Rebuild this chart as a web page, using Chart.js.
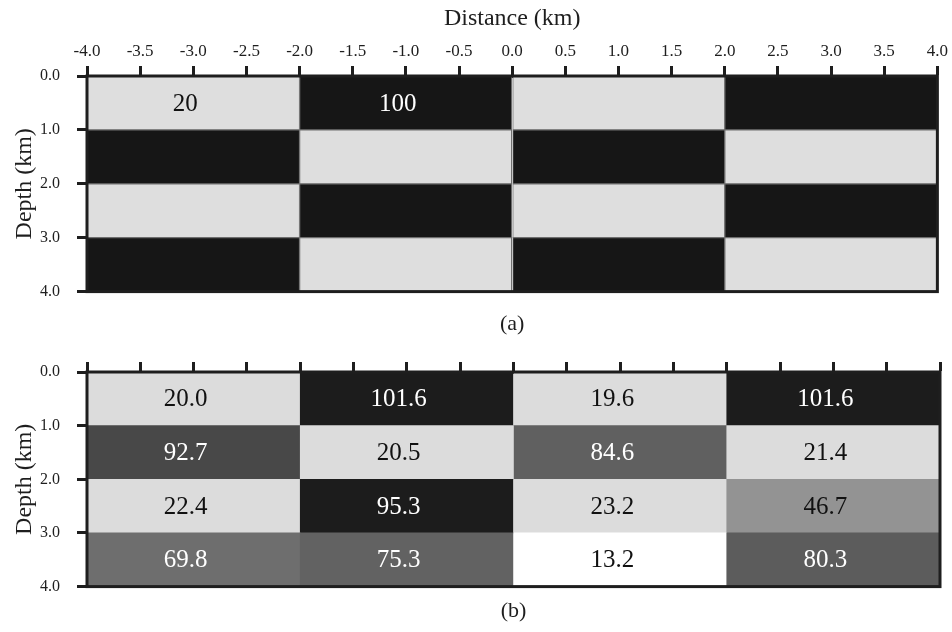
<!DOCTYPE html>
<html>
<head>
<meta charset="utf-8">
<script src="https://cdn.jsdelivr.net/npm/chart.js@4.4.1/dist/chart.umd.min.js"></script>
<style>
  html, body { margin: 0; padding: 0; background: #fff; }
  #wrap { width: 952px; height: 632px; }
  canvas { display: block; }
</style>
</head>
<body>
<div id="wrap">
  <canvas id="trueChart" width="952" height="340"></canvas>
  <canvas id="invChart" width="952" height="292"></canvas>
</div>
<script>
// ── Data ──
const distanceEdges = [-4.0, -2.0, 0.0, 2.0, 4.0];   // block edges (km)
const layerDepths = [0.5, 1.5, 2.5, 3.5];             // layer mid-depths (km)

// (a) true checkerboard model, rows = layers
const trueModel = [
  [20, 100, 20, 100],
  [100, 20, 100, 20],
  [20, 100, 20, 100],
  [100, 20, 100, 20]
];
const trueLabels = [
  ['20', '100', '', ''],
  ['', '', '', ''],
  ['', '', '', ''],
  ['', '', '', '']
];

// (b) recovered model
const invModel = [
  [20.0, 101.6, 19.6, 101.6],
  [92.7, 20.5, 84.6, 21.4],
  [22.4, 95.3, 23.2, 46.7],
  [69.8, 75.3, 13.2, 80.3]
];

// grey shades
const invShades = [
  ['#dcdcdc', '#1c1c1c', '#dcdcdc', '#1c1c1c'],
  ['#484848', '#dcdcdc', '#606060', '#dcdcdc'],
  ['#dcdcdc', '#1c1c1c', '#dcdcdc', '#939393'],
  ['#6e6e6e', '#626262', '#ffffff', '#5c5c5c']
];

(function () {
  'use strict';

  const SERIF = "'Liberation Serif', 'Times New Roman', serif";
  const INK = '#1e1e1e';
  const LIGHT = '#dedede';
  const DARK = '#161616';

  Chart.defaults.font.family = SERIF;
  Chart.defaults.color = INK;

  // ── Helpers ──
  function buildCells(model, labels) {
    const cells = [];
    model.forEach((row, r) => {
      row.forEach((v, c) => {
        cells.push({
          x: [distanceEdges[c], distanceEdges[c + 1]],
          y: layerDepths[r],
          v: v,
          label: labels ? labels[r][c] : v.toFixed(1)
        });
      });
    });
    return cells;
  }

  function isDark(hex) {
    const n = parseInt(hex.slice(1), 16);
    const lum = 0.299 * (n >> 16) + 0.587 * ((n >> 8) & 255) + 0.114 * (n & 255);
    return lum < 128;
  }

  // frame around the plot + cell values
  const cellText = {
    id: 'cellText',
    afterDatasetsDraw(chart) {
      const { ctx, chartArea } = chart;
      const meta = chart.getDatasetMeta(0);
      const ds = chart.data.datasets[0];
      ctx.save();
      ctx.font = '25px ' + SERIF;
      ctx.textAlign = 'center';
      ctx.textBaseline = 'middle';
      meta.data.forEach((bar, i) => {
        const cell = ds.data[i];
        if (!cell.label) return;
        const p = bar.getCenterPoint();
        ctx.fillStyle = isDark(ds.backgroundColor[i]) ? '#ffffff' : '#111111';
        ctx.fillText(cell.label, p.x - 8, p.y + 1);
      });
      ctx.strokeStyle = INK;
      ctx.lineWidth = 3;
      ctx.strokeRect(chartArea.left, chartArea.top,
        chartArea.right - chartArea.left, chartArea.bottom - chartArea.top);
      ctx.restore();
    }
  };

  function makeOptions(cfg) {
    return {
      indexAxis: 'y',
      responsive: false,
      animation: false,
      devicePixelRatio: 1,
      layout: { padding: { left: 0, right: 12, top: 0, bottom: 0 } },
      plugins: {
        legend: { display: false },
        tooltip: { enabled: false },
        title: {
          display: true,
          text: cfg.caption,
          position: 'bottom',
          fullSize: false,
          color: INK,
          font: { size: 22, weight: 'normal', family: SERIF },
          padding: cfg.captionPad
        }
      },
      scales: {
        x: {
          type: 'linear',
          position: 'top',
          min: -4,
          max: 4,
          ticks: {
            display: cfg.showX,
            stepSize: 0.5,
            padding: 4,
            color: INK,
            font: { size: 17 },
            maxRotation: 0,
            callback: v => v.toFixed(1)
          },
          grid: {
            drawOnChartArea: false,
            drawTicks: true,
            tickLength: 10,
            tickWidth: 3,
            tickColor: INK
          },
          border: { display: true, width: 3, color: INK },
          title: {
            display: cfg.showX,
            text: 'Distance (km)',
            color: INK,
            font: { size: 24 },
            padding: { top: 4, bottom: 0 }
          },
          afterFit: s => { s.height = cfg.xHeight; }
        },
        y: {
          type: 'linear',
          reverse: true,
          offset: false,
          min: 0,
          max: 4,
          ticks: {
            stepSize: 1,
            padding: 17,
            color: INK,
            font: { size: 16 },
            callback: v => v.toFixed(1)
          },
          grid: {
            offset: false,
            drawOnChartArea: false,
            drawTicks: true,
            tickLength: 10,
            tickWidth: 3,
            tickColor: INK
          },
          border: { display: true, width: 3, color: INK },
          title: {
            display: true,
            text: 'Depth (km)',
            color: INK,
            font: { size: 24 },
            padding: { top: 10, bottom: 0 }
          },
          afterFit: s => { s.width = 87; }
        }
      }
    };
  }

  // ── (a) true model ──
  function renderTrue() {
    const cells = buildCells(trueModel, trueLabels);
    new Chart(document.getElementById('trueChart'), {
      type: 'bar',
      data: {
        datasets: [{
          data: cells,
          backgroundColor: cells.map(c => (c.v > 50 ? DARK : LIGHT)),
          borderColor: '#6e6e6e',
          borderWidth: 1,
          borderSkipped: false,
          barPercentage: 1,
          categoryPercentage: 1
        }]
      },
      options: makeOptions({
        caption: '(a)',
        captionPad: { top: 19, bottom: 3 },
        showX: true,
        xHeight: 76
      }),
      plugins: [cellText]
    });
  }

  // ── (b) recovered model ──
  function renderInverted() {
    const cells = buildCells(invModel, null);
    new Chart(document.getElementById('invChart'), {
      type: 'bar',
      data: {
        datasets: [{
          data: cells,
          backgroundColor: invShades.flat(),
          borderWidth: 0,
          borderSkipped: false,
          barPercentage: 1,
          categoryPercentage: 1
        }]
      },
      options: makeOptions({
        caption: '(b)',
        captionPad: { top: 11, bottom: 8 },
        showX: false,
        xHeight: 32
      }),
      plugins: [cellText]
    });
  }

  renderTrue();
  renderInverted();
})();
</script>
</body>
</html>
